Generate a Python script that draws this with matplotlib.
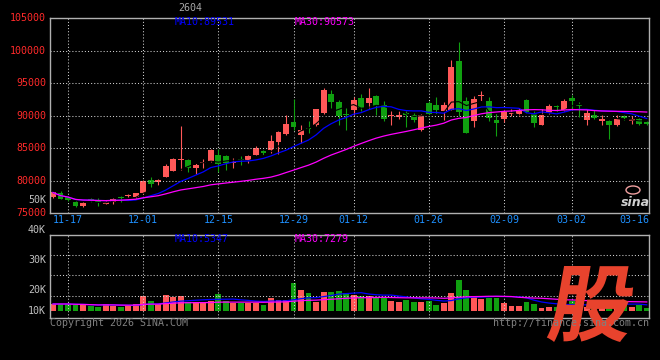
import numpy as np
import pandas as pd
import matplotlib
matplotlib.use("Agg")
import matplotlib.pyplot as plt
import matplotlib.transforms as mtransforms
from matplotlib.textpath import TextPath
from matplotlib.patches import PathPatch, Ellipse
from matplotlib.font_manager import FontProperties

plt.rcParams['font.family'] = ['DejaVu Sans Mono']

# ========== 数据 ==========
dates = ['11-13', '11-14', '11-17', '11-18', '11-19', '11-20', '11-21', '11-24', '11-25', '11-26', '11-27', '11-28',
         '12-01', '12-02', '12-03', '12-04', '12-05', '12-08', '12-09', '12-10', '12-11', '12-12', '12-15', '12-16',
         '12-17', '12-18', '12-19', '12-22', '12-23', '12-24', '12-25', '12-26', '12-29', '12-30', '12-31',
         '01-05', '01-06', '01-07', '01-08', '01-09', '01-12', '01-13', '01-14', '01-15', '01-16', '01-19', '01-20',
         '01-21', '01-22', '01-23', '01-26', '01-27', '01-28', '01-29', '01-30',
         '02-02', '02-03', '02-04', '02-05', '02-06', '02-09', '02-10', '02-11', '02-12', '02-13', '02-24', '02-25',
         '02-26', '02-27',
         '03-02', '03-03', '03-04', '03-05', '03-06', '03-09', '03-10', '03-11', '03-12', '03-13', '03-16']

opens = [77430, 78150, 77500, 76800, 76050, 77200, 76850, 76460, 76750, 77380, 77700, 77450,
         78050, 80150, 79800, 80550, 81550, 83150, 83230, 81900, 82700, 82970, 84000, 83850, 82700, 83250, 82970,
         84000, 84500, 84770, 85900, 87230, 88970, 87080, 88000,
         88550, 90400, 93385, 92050, 90250, 90820, 92720, 91950, 92975, 91690, 89900, 89744, 90360, 90150, 87744,
         91950, 91690, 90670, 90900, 98360,
         92200, 89130, 92950, 92200, 89280, 89540, 90200, 90260, 92460, 90200, 88510, 90410, 91400, 90920,
         92720, 91700, 89280, 90150, 89130, 89230, 88615, 89900, 89150, 89540, 89100]
highs = [78300, 78350, 77700, 76900, 76700, 77300, 77300, 76850, 77300, 77700, 77950, 78100,
         80130, 80570, 80200, 82570, 83500, 88350, 83400, 82700, 83340, 84900, 84880, 84000, 83500, 83850, 84000,
         85280, 84700, 87080, 87590, 90150, 92615, 88615, 89230,
         91000, 94300, 94000, 92460, 91180, 92870, 93380, 94260, 93230, 92200, 90670, 90670, 90670, 90400, 90300,
         92300, 92820, 92100, 98620, 101280,
         92800, 93080, 93850, 92870, 90410, 91025, 91025, 91180, 92500, 90670, 91000, 91840, 91690, 92610,
         93130, 92050, 91025, 90920, 90150, 89380, 90150, 90150, 89900, 89700, 89200]
lows = [77350, 77150, 76900, 76000, 75900, 76800, 76150, 76400, 76460, 76800, 77490, 77400,
        78000, 78970, 79400, 80500, 81500, 81700, 81300, 81100, 81950, 82900, 81300, 81600, 82000, 82460, 82720,
        83950, 84000, 84260, 84150, 87080, 87850, 85800, 87330,
        88360, 90300, 91200, 88615, 87750, 90150, 90770, 91180, 90150, 89130, 88620, 89540, 88260, 89000, 87700,
        89900, 90310, 89380, 90900, 90000,
        87300, 88260, 92200, 89130, 86820, 88970, 89900, 89900, 90400, 88200, 88510, 90300, 90410, 90770,
        91025, 89800, 88615, 89490, 88510, 86410, 88460, 89380, 88700, 88500, 88600]
closes = [78200, 77230, 77050, 76050, 76650, 76900, 76700, 76800, 77230, 77300, 77800, 78050,
          80000, 79540, 80050, 82200, 83400, 83400, 81900, 82350, 82750, 84660, 82620, 82800, 82900, 83150, 83850,
          85000, 84300, 86050, 87430, 88770, 88260, 87850, 87900,
          90950, 94000, 92050, 89900, 90100, 92460, 91180, 92720, 91440, 89540, 90150, 90154, 90100, 89380, 90154,
          90310, 90920, 91590, 97440, 90500,
          87300, 92560, 93150, 89640, 88870, 90510, 90400, 90920, 90600, 88870, 90150, 91435, 91300, 92310,
          92200, 91440, 90410, 89640, 89540, 88615, 89540, 89640, 89450, 88700, 88650]
volumes = [15333, 15333, 15333, 15000, 15000, 14670, 14444, 15333, 14780, 14444, 14670, 15222,
           18111, 16333, 15333, 18333, 17555, 18111, 16111, 16111, 16111, 16444, 18667, 16444, 15778, 15778, 15778,
           15778, 15000, 17222, 16667, 16667, 22333, 20000, 18889,
           16111, 19333, 19333, 19667, 19000, 18333, 18000, 18000, 17555, 17555, 16333, 16111, 16667, 16111, 15889,
           16444, 15000, 15555, 19111, 23333,
           20000, 18000, 16889, 17222, 17222, 15778, 14800, 14800, 15900, 15400, 14100, 14400, 14500, 15000,
           16500, 15500, 14500, 16000, 14500, 15500, 16000, 15000, 14500, 15000, 14100]

price_ticks = [105000, 100000, 95000, 90000, 85000, 80000, 75000]
vol_ticks = [50000, 40000, 30000, 20000]
date_ticks = ['11-17', '12-01', '12-15', '12-29', '01-12', '01-26', '02-09', '03-02', '03-16']
ma_text = ['MA10:89531', 'MA30:90573']
vol_ma_text = ['MA10:5347', 'MA30:7279']

# ========== 画布 ==========
W, H = 660, 360
RED, GREEN = '#ff5858', '#10a010'
GRID = '#d0d0d0'

x = np.arange(len(dates))
o, h, l, c = map(np.array, (opens, highs, lows, closes))
cols = np.where(c >= o, RED, GREEN)

fig = plt.figure(figsize=(W / 100, H / 100), dpi=100, facecolor='black')
ax = fig.add_axes([50 / W, 1 - 213.3 / H, 599 / W, 195.3 / H])
axv = fig.add_axes([50 / W, 1 - 318.3 / H, 599 / W, 83.3 / H])

grid_x = [dates.index(d) for d in date_ticks[:-1]]
for a in (ax, axv):
    a.set_facecolor('black')
    a.set_xlim(-0.4, 79.3)
    for s in a.spines.values():
        s.set_color('#b0b0b0')
        s.set_linewidth(1)
    a.tick_params(length=0, labelbottom=False, labelleft=False)
    a.set_xticks(grid_x)
    a.grid(True, ls=(0, (1, 2)), lw=0.75, color=GRID)

# ========== K线 ==========
ax.set_ylim(75000, 105000)
ax.set_yticks(price_ticks[1:-1])
ax.vlines(x, l, h, colors=cols, lw=0.8)
ax.bar(x, np.maximum(np.abs(c - o), 150), bottom=np.minimum(o, c), width=0.78, color=cols, lw=0)

cs = pd.Series(closes)
ax.plot(x, cs.rolling(5, min_periods=1).mean(), c='black', lw=0.8)
ax.plot(x, cs.rolling(10, min_periods=1).mean(), c='#0000ff', lw=0.9)
ax.plot(x, cs.rolling(30, min_periods=1).mean(), c='#ff00ff', lw=0.9)

yt = ax.get_yaxis_transform()
for v in price_ticks:
    ax.text(-4 / 599, v, str(v), transform=yt, ha='right', va='center', color='#ff2a2a', fontsize=7.2, clip_on=False)
xt = ax.get_xaxis_transform()
for d in date_ticks:
    i = dates.index(d)
    if d == date_ticks[-1]:
        ax.text(79.3, -0.034, d, transform=xt, ha='right', va='center', color='#1e90ff', fontsize=7.2)
    else:
        ax.text(i, -0.034, d, transform=xt, ha='center', va='center', color='#1e90ff', fontsize=7.2)
ax.text(125 / 599, 0.98, ma_text[0], transform=ax.transAxes, color='#0000ff', fontsize=7.2, va='center')
ax.text(245 / 599, 0.98, ma_text[1], transform=ax.transAxes, color='#ff00ff', fontsize=7.2, va='center')

# ========== 成交量 ==========
vol_base = 13110
axv.set_ylim(10570, 38330)
axv.set_yticks([31667, 25000, 18100])
axv.bar(x, np.array(volumes) - vol_base, bottom=vol_base, width=0.78, color=cols, lw=0)
vs = pd.Series(volumes)
axv.plot(x, vs.rolling(10, min_periods=1).mean(), c='#0000ff', lw=0.9)
axv.plot(x, vs.rolling(30, min_periods=1).mean(), c='#ff00ff', lw=0.9)

vt = axv.get_yaxis_transform()
for v in vol_ticks:
    axv.text(-4 / 599, v, f'{v // 1000}K', transform=vt, ha='right', va='center', color='#c0c0c0',
             fontsize=7.2, clip_on=False)
axv.text(-4 / 599, vol_base, '10K', transform=vt, ha='right', va='center', color='#c0c0c0', fontsize=7.2)
axv.text(125 / 599, 0.952, vol_ma_text[0], transform=axv.transAxes, color='#0000ff', fontsize=7.2, va='center')
axv.text(245 / 599, 0.952, vol_ma_text[1], transform=axv.transAxes, color='#ff00ff', fontsize=7.2, va='center')

# ========== 文字/水印 ==========
fig.text(190 / W, 1 - 8 / H, '2604', color='#a8a8a8', fontsize=7.2, ha='center', va='center')
fig.text(50 / W, 1 - 323.5 / H, 'Copyright 2026 SINA.COM', color='#808080', fontsize=7.2, va='center')
fig.text(649 / W, 1 - 323.5 / H, 'http://finance.sina.com.cn', color='#808080', fontsize=7.2,
         ha='right', va='center')
# sina 小logo
fig.text(635 / W, 1 - 202 / H, 'sina', color='#d0d0d0', fontsize=9, ha='center', va='center',
         style='italic', weight='bold', family='DejaVu Sans')
fig.add_artist(Ellipse((633 / W, 1 - 190 / H), 14 / W, 8 / H, transform=fig.transFigure,
                       facecolor='none', edgecolor='#f0a0a0', lw=1))

gu = TextPath((0, 0), '股', size=80, prop=FontProperties(family='Noto Sans CJK SC', weight='heavy'))
bb = gu.get_extents()
sc = 76 / bb.height
tr = (mtransforms.Affine2D().translate(-bb.x0, -bb.y0).scale(sc).skew_deg(10, 0)
      .translate(546, 18).scale(1 / W, 1 / H) + fig.transFigure)
fig.add_artist(PathPatch(gu, transform=tr, facecolor='#e8432d', edgecolor='none'))

fig.savefig('out.png', dpi=100, facecolor='black')
